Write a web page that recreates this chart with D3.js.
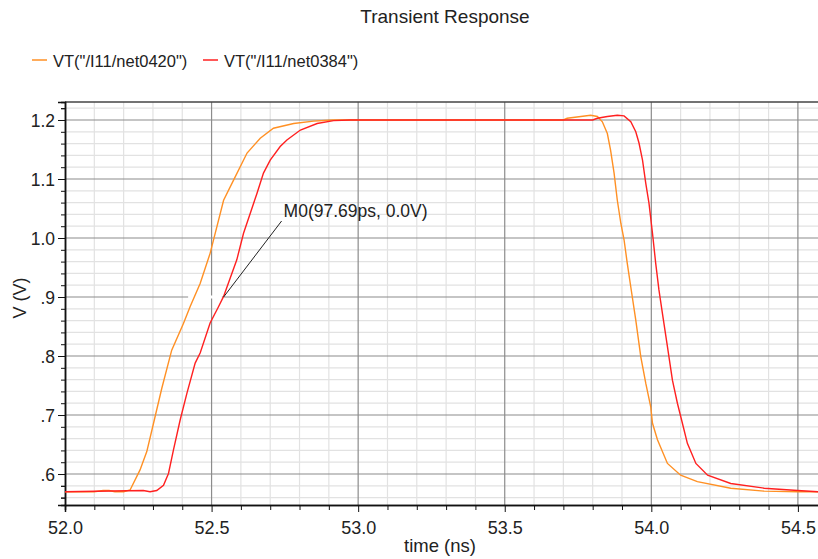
<!DOCTYPE html>
<html>
<head>
<meta charset="utf-8">
<script src="https://cdn.jsdelivr.net/npm/d3@7"></script>
<style>
body { margin: 0; background: #fff; }
text { font-family: "Liberation Sans", Arial, sans-serif; fill: #222; }
</style>
</head>
<body>
<script>
// series values (time in ns, volts)
var t0420 = [52.0, 52.10, 52.13, 52.15, 52.17, 52.20, 52.222, 52.256, 52.279, 52.302, 52.330, 52.364, 52.404, 52.427, 52.461, 52.495, 52.541, 52.575, 52.621, 52.666, 52.711, 52.780, 52.848, 52.915, 53.0, 53.5, 53.70, 53.713, 53.793, 53.816, 53.833, 53.850, 53.861, 53.873, 53.884, 53.896, 53.907, 53.918, 53.930, 53.947, 53.964, 53.981, 53.998, 54.004, 54.021, 54.055, 54.100, 54.157, 54.271, 54.385, 54.50, 54.57];
var v0420 = [0.570, 0.570, 0.572, 0.572, 0.570, 0.570, 0.573, 0.607, 0.638, 0.686, 0.745, 0.810, 0.855, 0.884, 0.923, 0.974, 1.064, 1.098, 1.144, 1.169, 1.186, 1.194, 1.198, 1.200, 1.200, 1.200, 1.200, 1.203, 1.208, 1.206, 1.197, 1.177, 1.149, 1.110, 1.064, 1.025, 0.997, 0.957, 0.917, 0.861, 0.799, 0.754, 0.714, 0.686, 0.658, 0.618, 0.598, 0.587, 0.576, 0.571, 0.570, 0.570];

var t0384 = [52.0, 52.267, 52.290, 52.313, 52.336, 52.353, 52.370, 52.393, 52.416, 52.444, 52.461, 52.495, 52.524, 52.541, 52.586, 52.609, 52.632, 52.655, 52.677, 52.700, 52.734, 52.757, 52.803, 52.860, 52.916, 52.973, 53.5, 53.80, 53.816, 53.850, 53.884, 53.907, 53.930, 53.947, 53.958, 53.970, 53.981, 53.992, 54.004, 54.015, 54.026, 54.038, 54.055, 54.072, 54.089, 54.106, 54.123, 54.152, 54.192, 54.271, 54.385, 54.499, 54.57];
var v0384 = [0.570, 0.572, 0.570, 0.572, 0.581, 0.601, 0.641, 0.692, 0.737, 0.788, 0.805, 0.856, 0.884, 0.901, 0.963, 1.008, 1.042, 1.076, 1.110, 1.132, 1.155, 1.166, 1.183, 1.194, 1.199, 1.200, 1.200, 1.200, 1.203, 1.206, 1.208, 1.207, 1.197, 1.180, 1.161, 1.132, 1.093, 1.059, 1.008, 0.957, 0.912, 0.872, 0.816, 0.759, 0.720, 0.686, 0.652, 0.618, 0.598, 0.584, 0.576, 0.572, 0.570];

var seriesNames = ['VT("/I11/net0420")', 'VT("/I11/net0384")'];
var seriesColors = ["#ff9024", "#ff2020"];

var xMajor = [52.0, 52.5, 53.0, 53.5, 54.0, 54.5];
var yMajor = [0.6, 0.7, 0.8, 0.9, 1.0, 1.1, 1.2];
var yLabels = [".6", ".7", ".8", ".9", "1.0", "1.1", "1.2"];

var markerPt = [52.541, 0.9];
var markerText = "M0(97.69ps, 0.0V)";

var W = 818, H = 559;
var svg = d3.select("body").append("svg").attr("width", W).attr("height", H);

var x = d3.scaleLinear().domain([52, 54.572]).range([65, 819]);
var y = d3.scaleLinear().domain([0.5475, 1.2305]).range([505, 102]);

var xMinor = d3.range(521, 546).map(function(d){ return d / 10; }).filter(function(d){ return Math.round(d*10) % 5 != 0; });
var yMinor = d3.range(28, 62).map(function(d){ return d / 50; }).filter(function(d){ return Math.round(d*50) % 5 != 0; });

var grid = svg.append("g");
grid.selectAll(".vmin").data(xMinor).enter().append("line")
	.attr("x1", x).attr("x2", x).attr("y1", 102).attr("y2", 505)
	.attr("stroke", "#e2e2e2").attr("stroke-width", 1.2);
grid.selectAll(".hmin").data(yMinor).enter().append("line")
	.attr("x1", 65).attr("x2", W).attr("y1", y).attr("y2", y)
	.attr("stroke", "#e2e2e2").attr("stroke-width", 1.2);
grid.selectAll(".vmaj").data(xMajor.slice(1)).enter().append("line")
	.attr("x1", x).attr("x2", x).attr("y1", 102).attr("y2", 505)
	.attr("stroke", "#8c8c8c").attr("stroke-width", 1.2);
grid.selectAll(".hmaj").data(yMajor).enter().append("line")
	.attr("x1", 65).attr("x2", W).attr("y1", y).attr("y2", y)
	.attr("stroke", "#8c8c8c").attr("stroke-width", 1.2);

// top frame
svg.append("line").attr("x1", 65).attr("x2", W).attr("y1", 102).attr("y2", 102)
	.attr("stroke", "#444").attr("stroke-width", 1.3);

// axes
var xAxis = svg.append("g").attr("transform", "translate(0,505)")
	.call(d3.axisBottom(x).tickValues(xMajor).tickSize(7).tickFormat(d3.format(".1f")));
svg.append("g").attr("transform", "translate(0,505)")
	.call(d3.axisBottom(x).tickValues(xMinor).tickSize(5).tickFormat(""));
var yAxis = svg.append("g").attr("transform", "translate(65,0)")
	.call(d3.axisLeft(y).tickValues(yMajor).tickSize(7).tickFormat(function(d, i){ return yLabels[i]; }));
svg.append("g").attr("transform", "translate(65,0)")
	.call(d3.axisLeft(y).tickValues(yMinor.concat([0.56, 0.58, 1.22])).tickSize(4).tickFormat(""));

svg.selectAll(".domain").attr("stroke", "#111").attr("stroke-width", 1.5);
svg.selectAll(".tick line").attr("stroke", "#111");
xAxis.selectAll("text").attr("font-size", 18).attr("y", 13).attr("dy", "0.9em").attr("fill", "#222")
	.attr("font-family", "Liberation Sans, sans-serif");
yAxis.selectAll("text").attr("font-size", 17.5).attr("dy", "0.36em").attr("fill", "#222")
	.attr("font-family", "Liberation Sans, sans-serif");

// white gap left by the marker
svg.append("line")
	.attr("x1", x(52.42)).attr("x2", x(52.535)).attr("y1", y(0.9)).attr("y2", y(0.9))
	.attr("stroke", "#fff").attr("stroke-width", 3);

var line = d3.line().x(function(d){ return x(d[0]); }).y(function(d){ return y(d[1]); });
var series = [d3.zip(t0420, v0420), d3.zip(t0384, v0384)];
svg.selectAll(".curve").data(series).enter().append("path")
	.attr("d", line)
	.attr("fill", "none")
	.attr("stroke", function(d, i){ return seriesColors[i]; })
	.attr("stroke-width", 1.4);

// marker M0
var mx = x(markerPt[0]), my = y(markerPt[1]);
svg.append("line").attr("x1", mx).attr("y1", my).attr("x2", mx + 58).attr("y2", my - 76)
	.attr("stroke", "#222").attr("stroke-width", 1);
svg.append("text").attr("x", mx + 60).attr("y", my - 80).attr("font-size", 17.5).text(markerText);

// title + axis titles
svg.append("text").attr("x", 445).attr("y", 23).attr("text-anchor", "middle").attr("font-size", 19).text("Transient Response");
svg.append("text").attr("x", 440).attr("y", 552).attr("text-anchor", "middle").attr("font-size", 18.5).text("time (ns)");
svg.append("text").attr("transform", "translate(26,298) rotate(-90)").attr("text-anchor", "middle")
	.attr("font-family", "Liberation Sans Narrow, Liberation Sans, sans-serif")
	.attr("font-size", 18).text("V (V)");

// legend
var legX = [32, 203];
var leg = svg.selectAll(".leg").data(seriesNames).enter().append("g")
	.attr("transform", function(d, i){ return "translate(" + legX[i] + ",60)"; });
leg.append("line").attr("x1", 0).attr("x2", 15).attr("y1", 0).attr("y2", 0)
	.attr("stroke", function(d, i){ return seriesColors[i]; }).attr("stroke-width", 1.5);
leg.append("text").attr("x", 21).attr("y", 6.5).attr("font-size", 16.5).text(function(d){ return d; });
</script>
</body>
</html>
